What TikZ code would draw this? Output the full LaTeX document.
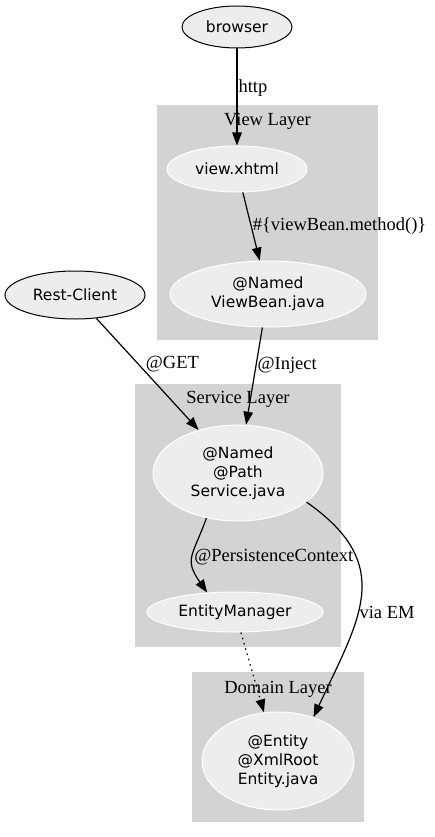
\documentclass[tikz,border=0pt]{standalone}
\usepackage{fontspec}
\setmainfont{Liberation Serif}
\newfontfamily\boxfont{DejaVu Sans}
\usetikzlibrary{shapes.geometric,arrows.meta}
\definecolor{LayerClr}{HTML}{D3D3D3}
\definecolor{NodeClr}{HTML}{EDEDED}

\tikzset{
  client/.style={ellipse,draw=black,line width=1pt,fill=NodeClr,inner sep=0pt,
    align=center,font=\boxfont\fontsize{15.5}{19}\selectfont},
  part/.style={client,draw=white},
  layer/.style={fill=LayerClr},
  layerlbl/.style={font=\fontsize{18.5}{20}\selectfont,inner sep=0pt},
  lbl/.style={font=\fontsize{18.5}{20}\selectfont,inner sep=1pt},
  link/.style={-{Triangle[length=13pt,width=9.5pt]},line width=1.2pt},
}

\begin{document}
\begin{tikzpicture}[x=1pt,y=1pt]
\useasboundingbox (0,0) rectangle (434,-837);

% layers
\fill[layer] (157,-105) rectangle (378,-340);
\fill[layer] (135,-384) rectangle (341,-647);
\fill[layer] (192,-672) rectangle (364,-822);
\node[layerlbl] (viewL) at (267.5,-121) {View Layer};
\node[layerlbl] (serviceL) at (238,-399) {Service Layer};
\node[layerlbl] (domainL) at (278,-689) {Domain Layer};

\node[client,minimum width=110pt,minimum height=42pt] (browser) at (237,-27) {browser};
\node[client,minimum width=140pt,minimum height=48pt] (rest) at (75,-295) {Rest-Client};
\node[part,minimum width=140pt,minimum height=46pt] (view) at (237,-169) {view.xhtml};
\node[part,minimum width=196pt,minimum height=66pt] (bean) at (268,-294) {@Named\\ViewBean.java};
\node[part,minimum width=170pt,minimum height=96pt] (service) at (238,-473) {@Named\\@Path\\Service.java};
\node[part,minimum width=176pt,minimum height=40pt] (em) at (235,-612) {EntityManager};
\node[part,minimum width=152pt,minimum height=98pt] (entity) at (278,-761) {@Entity\\@XmlRoot\\Entity.java};

\draw[link] (browser) -- node[lbl,pos=.41,anchor=west] {http} (view);
\draw[link] (view) -- node[lbl,pos=.5,anchor=west] {\#\{viewBean.method()\}} (bean);
\draw[link] (bean) -- node[lbl,pos=.39,anchor=west] {@Inject} (service);
\draw[link] (rest) -- node[lbl,pos=.41,anchor=west,xshift=6pt] {@GET} (service);
\draw[link] (service.-125) to[out=-110,in=125,looseness=1.4] node[lbl,pos=.5,anchor=west] {@PersistenceContext} (em.145);
\draw[link] (service.-23) to[out=-35,in=65,looseness=1.3] node[lbl,pos=.58,anchor=west] {via EM} (entity.51);
\draw[link,dash pattern=on 1.5pt off 4pt] (em) -- (entity);

\end{tikzpicture}
\end{document}
